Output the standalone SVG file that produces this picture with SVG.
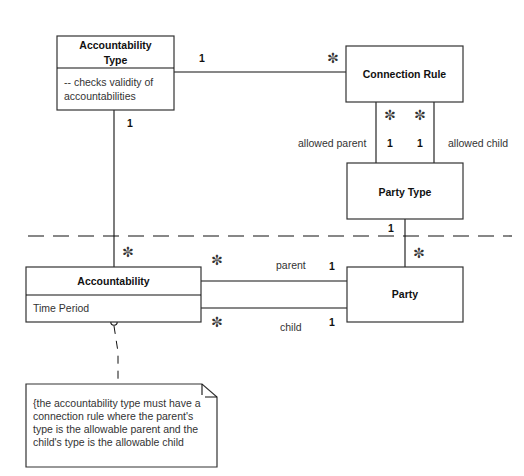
<svg xmlns="http://www.w3.org/2000/svg" width="524" height="476" viewBox="0 0 524 476">
<style>
.box{fill:#fff;stroke:#333;stroke-width:1.2}
.ln{stroke:#111;stroke-width:1.1;fill:none}
.t{font-family:"Liberation Sans",Arial,sans-serif;font-size:10.5px;font-weight:bold;fill:#111;text-anchor:middle}
.r{font-family:"Liberation Sans",Arial,sans-serif;font-size:10.5px;fill:#333}
.m{font-family:"Liberation Sans",Arial,sans-serif;font-size:10.5px;font-weight:bold;fill:#111;text-anchor:middle}
.s{font-family:"DejaVu Sans",sans-serif;font-size:14px;fill:#333;text-anchor:middle}
</style>
<rect width="524" height="476" fill="#fff"/>
<g id="connectors">
<line class="ln" x1="174" y1="72" x2="346" y2="72"/>
<line class="ln" x1="114" y1="110" x2="114" y2="267"/>
<line class="ln" x1="376" y1="102" x2="376" y2="163"/>
<line class="ln" x1="434" y1="102" x2="434" y2="163"/>
<line class="ln" x1="405" y1="219" x2="405" y2="267"/>
<line class="ln" x1="201" y1="281" x2="347" y2="281"/>
<line class="ln" x1="201" y1="308" x2="347" y2="308"/>
<line stroke="#111" stroke-width="1.1" stroke-dasharray="16,9" x1="28" y1="236" x2="512" y2="236"/>
<polyline stroke="#111" stroke-width="1" stroke-dasharray="8,7" fill="none" points="114,326 118,352 118,384"/>
<circle cx="114" cy="322" r="3.2" fill="#fff" stroke="#111" stroke-width="1.1"/>
<text class="m" x="202" y="62">1</text>
<text class="s" x="333" y="63">✼</text>
<text class="m" x="130" y="127">1</text>
<text class="s" x="390" y="120">✼</text>
<text class="s" x="420" y="120">✼</text>
<text class="r" x="298" y="147">allowed parent</text>
<text class="m" x="390" y="147">1</text>
<text class="m" x="420" y="147">1</text>
<text class="r" x="448" y="147">allowed child</text>
<text class="m" x="391" y="232">1</text>
<text class="s" x="419" y="258">✼</text>
<text class="s" x="128" y="257">✼</text>
<text class="s" x="217" y="265">✼</text>
<text class="r" x="276" y="269">parent</text>
<text class="m" x="332" y="270">1</text>
<text class="s" x="217" y="327">✼</text>
<text class="r" x="280" y="331">child</text>
<text class="m" x="332" y="326">1</text>
</g>
<g id="accountability-type">
<rect class="box" x="57" y="36" width="117" height="74"/>
<line class="ln" x1="57" y1="68" x2="174" y2="68"/>
<text class="t" x="115.5" y="49">Accountability</text>
<text class="t" x="115.5" y="64">Type</text>
<text class="r" x="64" y="86">-- checks validity of</text>
<text class="r" x="64" y="100">accountabilities</text>
</g>
<g id="connection-rule">
<rect class="box" x="346" y="46" width="117" height="56"/>
<text class="t" x="404.5" y="78">Connection Rule</text>
</g>
<g id="party-type">
<rect class="box" x="347" y="163" width="116" height="56"/>
<text class="t" x="405" y="196">Party Type</text>
</g>
<g id="accountability">
<rect class="box" x="26" y="267" width="175" height="55"/>
<line class="ln" x1="26" y1="295" x2="201" y2="295"/>
<text class="t" x="113.5" y="285">Accountability</text>
<text class="r" x="33" y="312">Time Period</text>
</g>
<g id="party">
<rect class="box" x="347" y="267" width="116" height="55"/>
<text class="t" x="405" y="298">Party</text>
</g>
<g id="note">
<path class="box" d="M26,384 H202 L217,397 V467 H26 Z"/>
<path class="ln" d="M202,384 V395 M205,397 H217"/>
<text class="r" x="33" y="407">{the accountability type must have a</text>
<text class="r" x="33" y="420">connection rule where the parent's</text>
<text class="r" x="33" y="433">type is the allowable parent and the</text>
<text class="r" x="33" y="446">child's type is the allowable child</text>
</g>
</svg>
